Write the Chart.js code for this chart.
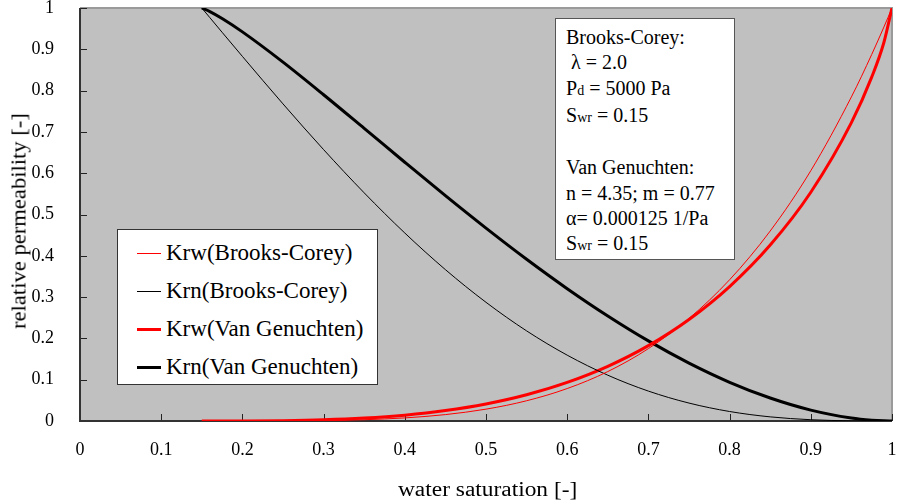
<!DOCTYPE html>
<html lang="en">

<head>
  <meta charset="UTF-8">
  <script src="https://cdn.jsdelivr.net/npm/chart.js@4.4.0/dist/chart.umd.min.js"></script>
  <style>
    body {
      margin: 0;
      background: #fff;
    }

    #wrap {
      position: relative;
      width: 900px;
      height: 504px;
      font-family: "Liberation Serif", "DejaVu Serif", serif;
      color: #000;
    }

    #legend {
      position: absolute;
      left: 117px;
      top: 229px;
      width: 259px;
      height: 154px;
      background: #fff;
      border: 1.5px solid #333;
      font-size: 23px;
    }

    .row {
      position: absolute;
      left: 0;
      height: 26px;
      line-height: 26px;
      white-space: nowrap;
    }

    .row span.swatch {
      position: absolute;
      left: 19px;
      width: 24px;
      top: 13px;
    }

    .row span.txt {
      position: absolute;
      left: 48px;
      top: 0;
    }

    #info {
      position: absolute;
      left: 555px;
      top: 18px;
      width: 180px;
      height: 242px;
      background: #fff;
      border: 1px solid #555;
      font-size: 20px;
      line-height: 25.3px;
      padding: 6px 0 0 10px;
      box-sizing: border-box;
      white-space: nowrap;
    }

    #info small {
      font-size: 14px;
    }

    .axtitle {
      position: absolute;
      font-size: 20px;
      line-height: 24px;
      white-space: nowrap;
    }
  </style>
  <title>Relative permeability</title>
</head>

<body>
  <div id="wrap">
    <canvas id="chart" width="900" height="504"></canvas>
    <div id="legend"></div>
    <div id="info"></div>
    <div id="ytitle" class="axtitle">relative permeability [-]</div>
    <div id="xtitle" class="axtitle">water saturation [-]</div>
  </div>

  <script>
    // water saturation sample points
    const sw = [0.15, 0.16, 0.175, 0.2, 0.25, 0.3, 0.35, 0.4, 0.45, 0.5, 0.55, 0.6, 0.65, 0.7,
      0.75, 0.8, 0.85, 0.9, 0.95, 0.975, 0.99, 1.0];

    // relative permeabilities
    const krwBrooksCorey = [0, 0, 0, 0.00001, 0.0002, 0.001, 0.0031, 0.0075, 0.0155, 0.0287, 0.049, 0.0786, 0.1197, 0.1753,
      0.2483, 0.342, 0.46, 0.6061, 0.7847, 0.8874, 0.9538, 1.0];
    const krnBrooksCorey = [1.0, 0.9765, 0.9412, 0.8828, 0.7678, 0.6571, 0.5524, 0.4552, 0.3665, 0.2874, 0.2182, 0.1594, 0.1109, 0.0724,
      0.0434, 0.023, 0.01, 0.0031, 0.0004, 0.00005, 0, 0];
    const krwVanGenuchten = [0, 0, 0.00001, 0.0001, 0.0008, 0.0028, 0.007, 0.0141, 0.0252, 0.0412, 0.0635, 0.0934, 0.1323, 0.1824,
      0.2458, 0.3256, 0.4261, 0.5539, 0.7224, 0.8326, 0.9164, 1.0];
    const krnVanGenuchten = [1.0, 0.9913, 0.9745, 0.9422, 0.869, 0.79, 0.7085, 0.6265, 0.5456, 0.467, 0.3916, 0.3204, 0.2543, 0.1939,
      0.1402, 0.0938, 0.0556, 0.0264, 0.0073, 0.002, 0.0004, 0];

    const labels = ['Krw(Brooks-Corey)', 'Krn(Brooks-Corey)', 'Krw(Van Genuchten)', 'Krn(Van Genuchten)'];
    const series = [krwBrooksCorey, krnBrooksCorey, krwVanGenuchten, krnVanGenuchten];
    const colors = ['#ff0000', '#000000', '#ff0000', '#000000'];
    const widths = [1, 1, 3, 3];

    const xTicks = [0, 0.1, 0.2, 0.3, 0.4, 0.5, 0.6, 0.7, 0.8, 0.9, 1];
    const yTicks = [0, 0.1, 0.2, 0.3, 0.4, 0.5, 0.6, 0.7, 0.8, 0.9, 1];

    const infoLines = [
      'Brooks-Corey:',
      '&nbsp;λ = 2.0',
      'P<small>d</small> = 5000 Pa',
      'S<small>wr</small> = 0.15',
      '&nbsp;',
      'Van Genuchten:',
      'n = 4.35; m = 0.77',
      'α= 0.000125 1/Pa',
      'S<small>wr</small> = 0.15'
    ];

    const datasets = series.map(function (vals, i) {
      return {
        label: labels[i],
        data: vals.map(function (v, j) { return { x: sw[j], y: v } }),
        borderColor: colors[i],
        borderWidth: widths[i],
        pointRadius: 0,
        fill: false,
        cubicInterpolationMode: 'monotone'
      }
    });

    const FONT = '"Liberation Serif", "DejaVu Serif", serif';

    // grey plot background, frame and inward tick marks
    const frame = {
      id: 'frame',
      beforeDatasetsDraw(chart) {
        const { ctx, chartArea: a, scales } = chart;
        ctx.save();
        ctx.fillStyle = '#c0c0c0';
        ctx.fillRect(a.left, a.top, a.right - a.left, a.bottom - a.top);
        ctx.strokeStyle = '#9a9a9a';
        ctx.lineWidth = 2;
        ctx.beginPath();
        ctx.moveTo(a.left, a.top);
        ctx.lineTo(a.right, a.top);
        ctx.lineTo(a.right, a.bottom);
        ctx.stroke();
        ctx.strokeStyle = '#222';
        ctx.lineWidth = 1;
        ctx.beginPath();
        xTicks.forEach(function (t) {
          const px = Math.round(scales.x.getPixelForValue(t)) + 0.5;
          ctx.moveTo(px, a.bottom);
          ctx.lineTo(px, a.bottom - 7);
        });
        yTicks.forEach(function (t) {
          const py = Math.round(scales.y.getPixelForValue(t)) + 0.5;
          ctx.moveTo(a.left, py);
          ctx.lineTo(a.left + 7, py);
        });
        ctx.stroke();
        ctx.strokeStyle = '#333';
        ctx.lineWidth = 2;
        ctx.beginPath();
        ctx.moveTo(a.left, a.top);
        ctx.lineTo(a.left, a.bottom);
        ctx.lineTo(a.right, a.bottom);
        ctx.stroke();
        ctx.restore();
      }
    };

    const chart = new Chart(document.getElementById('chart'), {
      type: 'line',
      data: { datasets: datasets },
      plugins: [frame],
      options: {
        responsive: false,
        animation: false,
        layout: { padding: { top: 8, right: 8, left: 0, bottom: 0 } },
        plugins: {
          legend: { display: false },
          tooltip: { enabled: false }
        },
        scales: {
          x: {
            type: 'linear',
            min: 0,
            max: 1,
            afterFit: function (s) {
              s.height = 83;
              s.paddingLeft = 0;
              s.paddingRight = 0;
            },
            afterBuildTicks: function (s) { s.ticks = xTicks.map(function (v) { return { value: v } }) },
            grid: { display: false },
            border: { display: false },
            ticks: {
              padding: 10,
              color: '#000',
              maxRotation: 0,
              font: { family: FONT, size: 18 },
              callback: function (v) { return String(v) }
            }
          },
          y: {
            type: 'linear',
            min: 0,
            max: 1,
            afterFit: function (s) {
              s.width = 80;
              s.paddingTop = 0;
              s.paddingBottom = 0;
            },
            afterBuildTicks: function (s) { s.ticks = yTicks.map(function (v) { return { value: v } }) },
            grid: { display: false },
            border: { display: false },
            ticks: {
              padding: 18,
              color: '#000',
              font: { family: FONT, size: 18 },
              callback: function (v) { return String(v) }
            }
          }
        }
      }
    });

    // legend box built from the dataset styles
    const legend = document.getElementById('legend');
    const rowCenters = [23, 61, 99, 137];
    datasets.forEach(function (ds, i) {
      const row = document.createElement('div');
      row.className = 'row';
      row.style.top = (rowCenters[i] - 13) + 'px';
      row.innerHTML = '<span class="swatch" style="border-top:' + ds.borderWidth + 'px solid ' + ds.borderColor +
        ';margin-top:-' + (ds.borderWidth / 2) + 'px"></span><span class="txt">' + ds.label + '</span>';
      legend.appendChild(row);
    });

    document.getElementById('info').innerHTML = infoLines.join('<br>');

    // axis titles, stretched along the text like the original
    function placeTitle(el, cx, cy, rot, stretch) {
      const w = el.offsetWidth, h = el.offsetHeight;
      el.style.left = (cx - w / 2) + 'px';
      el.style.top = (cy - h / 2) + 'px';
      el.style.transform = 'rotate(' + rot + 'deg) scaleX(' + stretch + ')';
    }
    placeTitle(document.getElementById('ytitle'), 18, 221, -90, 1.13);
    placeTitle(document.getElementById('xtitle'), 487, 489, 0, 1.17);
  </script>
</body>

</html>
